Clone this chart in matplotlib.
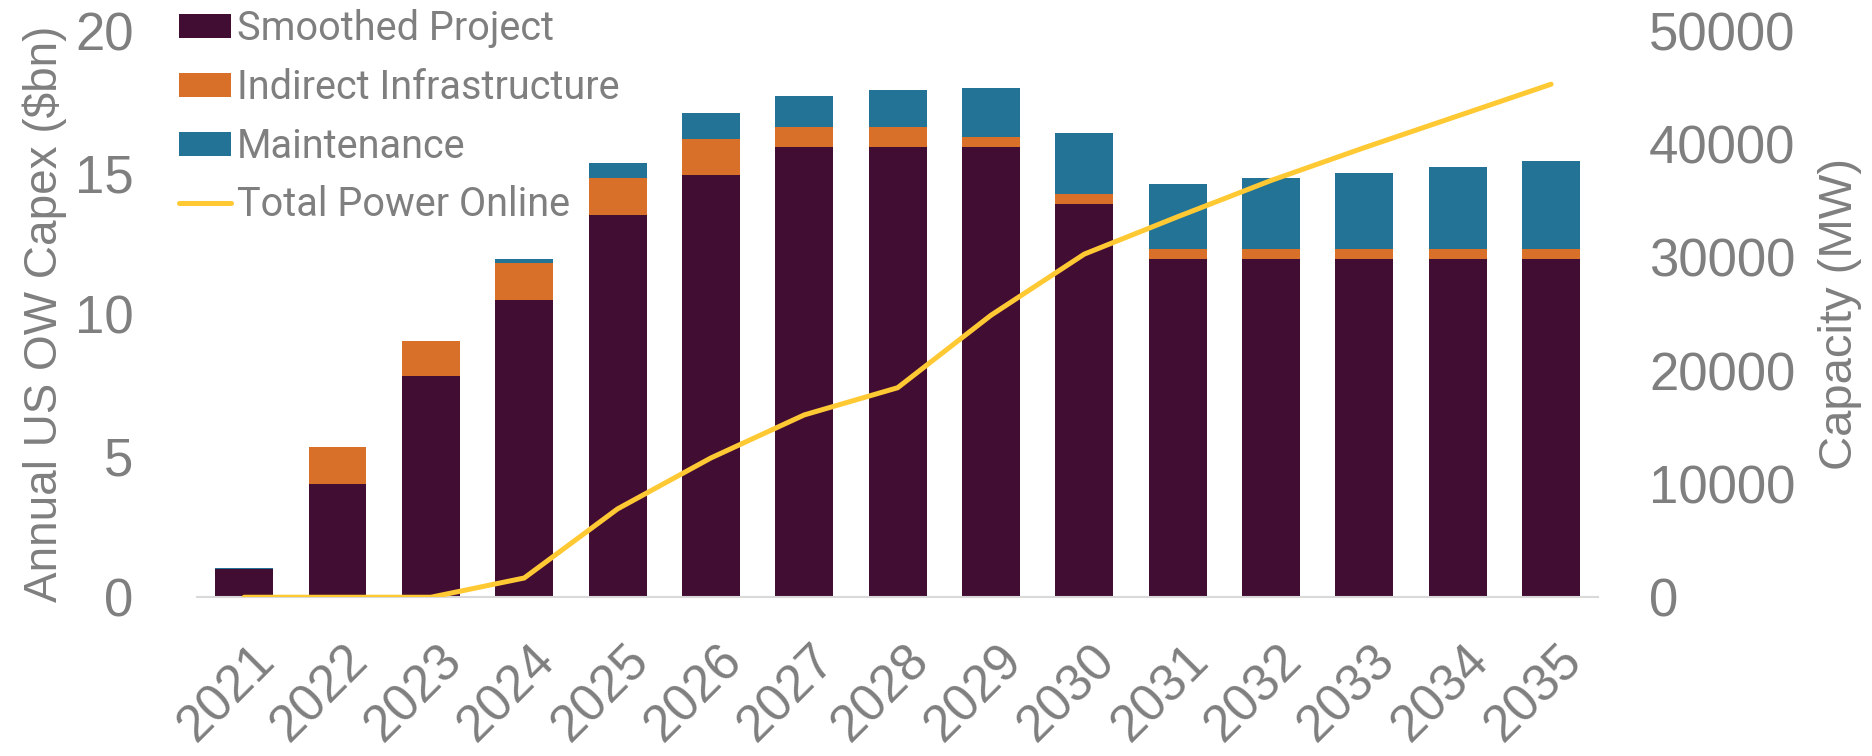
import matplotlib
matplotlib.use('Agg')
import matplotlib.pyplot as plt
import matplotlib.transforms as mtransforms
import numpy as np

plt.rcParams['font.family'] = ['Liberation Sans', 'DejaVu Sans']

years = ['2021', '2022', '2023', '2024', '2025', '2026', '2027', '2028',
         '2029', '2030', '2031', '2032', '2033', '2034', '2035']
smoothed = [1.0, 4.0, 7.8, 10.5, 13.5, 14.9, 15.9, 15.9, 15.9, 13.9, 11.95, 11.95, 11.95, 11.95, 11.95]
indirect = [0.0, 1.3, 1.25, 1.3, 1.3, 1.3, 0.7, 0.7, 0.35, 0.35, 0.35, 0.35, 0.35, 0.35, 0.35]
maintenance = [0.05, 0.0, 0.0, 0.15, 0.55, 0.9, 1.1, 1.3, 1.75, 2.15, 2.3, 2.5, 2.7, 2.9, 3.1]
power_online = [0, 0, 0, 1700, 7800, 12300, 16100, 18500, 24900, 30300, 33600, 36800, 39700, 42500, 45300]

C_SMOOTH = '#420D33'
C_IND = '#D9702A'
C_MAINT = '#227396'
C_LINE = '#FFC933'
GREY = '#7F7F7F'

fig = plt.figure(figsize=(18.72, 7.56), dpi=100)
ax = fig.add_axes([0.1055, 0.21, 0.748, 0.749])
ax2 = ax.twinx()

x = np.arange(len(years))
w = 0.62
bottom2 = np.array(smoothed) + np.array(indirect)
ax.bar(x, smoothed, w, color=C_SMOOTH, label='Smoothed Project', zorder=2)
ax.bar(x, indirect, w, bottom=smoothed, color=C_IND, label='Indirect Infrastructure', zorder=2)
ax.bar(x, maintenance, w, bottom=bottom2, color=C_MAINT, label='Maintenance', zorder=2)
ax2.plot(x, power_online, color=C_LINE, lw=3.6, label='Total Power Online',
         solid_capstyle='round', solid_joinstyle='miter')

ax.set_xlim(-0.5, len(years) - 0.5)
ax.set_ylim(0, 20)
ax.set_yticks([0, 5, 10, 15, 20])
ax2.set_ylim(0, 50000)
ax2.set_yticks([0, 10000, 20000, 30000, 40000, 50000])

for a in (ax, ax2):
    for s in a.spines.values():
        s.set_visible(False)
ax.spines['bottom'].set_visible(True)
ax.spines['bottom'].set_color('#D9D9D9')
ax.spines['bottom'].set_linewidth(1.5)

ax.tick_params(axis='y', length=0, pad=46, labelsize=38, labelcolor=GREY)
ax2.tick_params(axis='y', length=0, pad=37, labelsize=38, labelcolor=GREY)
ax.tick_params(axis='x', length=0, pad=28, labelsize=37, labelcolor=GREY)
ax.set_xticks(x)
ax.set_xticklabels(years, rotation=45, ha='right', va='top', rotation_mode='anchor')
offset = mtransforms.ScaledTranslation(0.06, 0, fig.dpi_scale_trans)
for lbl in ax.get_xticklabels():
    lbl.set_transform(lbl.get_transform() + offset)

ax.set_ylabel('Annual US OW Capex ($bn)', fontsize=33, color=GREY, labelpad=6)
ax2.set_ylabel('Capacity (MW)', fontsize=34, color=GREY, rotation=90, labelpad=16)

h1, l1 = ax.get_legend_handles_labels()
h2, l2 = ax2.get_legend_handles_labels()
leg = ax.legend(h1 + h2, l1 + l2, loc='upper left', bbox_to_anchor=(0.0955, 0.988),
                bbox_transform=fig.transFigure, frameon=False,
                prop={'family': 'Roboto', 'size': 28.5},
                labelcolor=GREY, handlelength=1.31, handleheight=0.56,
                handletextpad=0.15, labelspacing=0.5, borderaxespad=0, borderpad=0)

fig.savefig('out.png', dpi=100)
